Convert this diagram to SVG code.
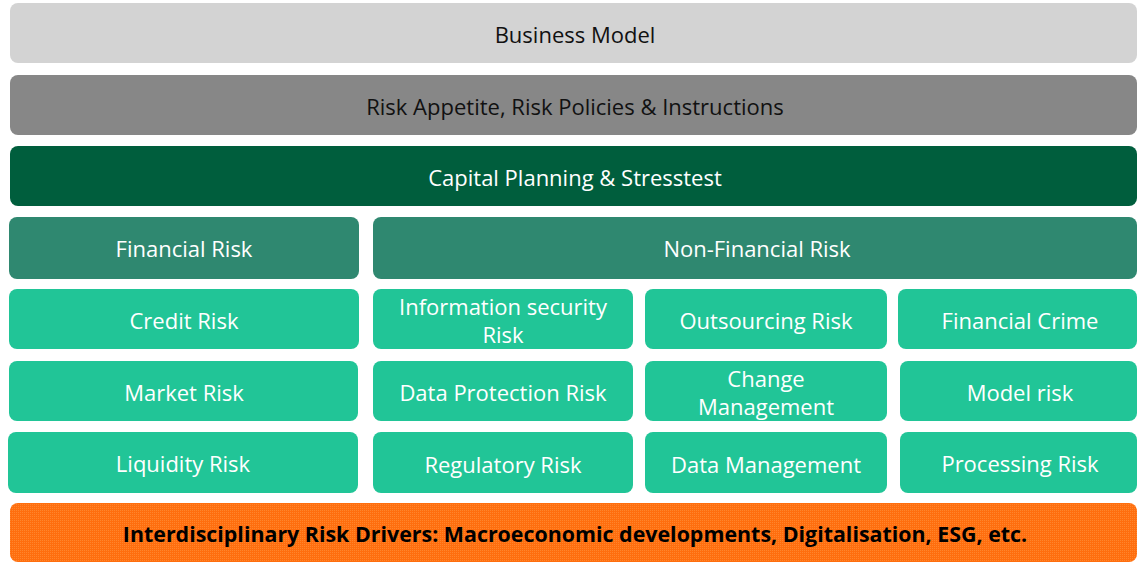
<svg xmlns="http://www.w3.org/2000/svg" width="1137" height="562" viewBox="0 0 1137 562">
  <defs>
    <!-- fine light speckle laid over the solid orange band -->
    <pattern id="dots" width="2" height="2" patternUnits="userSpaceOnUse">
      <rect width="1" height="1" fill="#ffa050"/>
    </pattern>
  </defs>
  <style>
    rect.box { rx: 8px; ry: 8px; }
    .gray-light { fill: #d3d3d3; }
    .gray-dark { fill: #878787; }
    .green-dark { fill: #005e3d; }
    .green-mid { fill: #2f8870; }
    .green-light { fill: #21c597; }
    .orange { fill: #ff6e0e; }
    .speckle { fill: url(#dots); opacity: 0.45; }
    text { font-family: "Open Sans", "Liberation Sans", sans-serif; font-size: 22px; text-anchor: middle; dominant-baseline: central; }
    .dark { fill: #111111; }
    .light { fill: #ffffff; }
    .bold { font-weight: bold; font-size: 21.4px; fill: #000000; }
  </style>

  <!-- top bands -->
  <g id="business-model">
    <rect class="box gray-light" x="10" y="3" width="1127" height="60"/>
    <text class="dark" x="575" y="33.5">Business Model</text>
  </g>
  <g id="risk-appetite">
    <rect class="box gray-dark" x="10" y="75" width="1127" height="60"/>
    <text class="dark" x="575" y="105.5">Risk Appetite, Risk Policies &amp; Instructions</text>
  </g>
  <g id="capital-planning">
    <rect class="box green-dark" x="10" y="146" width="1127" height="60"/>
    <text class="light" x="575" y="176.5">Capital Planning &amp; Stresstest</text>
  </g>

  <!-- category headers -->
  <g id="financial-risk">
    <rect class="box green-mid" x="9" y="217" width="350" height="62"/>
    <text class="light" x="184" y="247.5">Financial Risk</text>
  </g>
  <g id="non-financial-risk">
    <rect class="box green-mid" x="373" y="217" width="764" height="62"/>
    <text class="light" x="757" y="247.5">Non-Financial Risk</text>
  </g>

  <!-- financial risk types -->
  <g id="credit-risk">
    <rect class="box green-light" x="9" y="289" width="350" height="60"/>
    <text class="light" x="184" y="319.5">Credit Risk</text>
  </g>
  <g id="market-risk">
    <rect class="box green-light" x="9" y="361" width="349" height="60"/>
    <text class="light" x="184" y="391.5">Market Risk</text>
  </g>
  <g id="liquidity-risk">
    <rect class="box green-light" x="8" y="432" width="350" height="61"/>
    <text class="light" x="183" y="462.5">Liquidity Risk</text>
  </g>

  <!-- non-financial risk types -->
  <g id="information-security-risk">
    <rect class="box green-light" x="373" y="289" width="260" height="60"/>
    <text class="light" x="503" y="305.5">Information security</text>
    <text class="light" x="503" y="333.5">Risk</text>
  </g>
  <g id="outsourcing-risk">
    <rect class="box green-light" x="645" y="289" width="242" height="60"/>
    <text class="light" x="766" y="319.5">Outsourcing Risk</text>
  </g>
  <g id="financial-crime">
    <rect class="box green-light" x="898" y="289" width="239" height="60"/>
    <text class="light" x="1020" y="319.5">Financial Crime</text>
  </g>
  <g id="data-protection-risk">
    <rect class="box green-light" x="373" y="361" width="260" height="60"/>
    <text class="light" x="503" y="391.5">Data Protection Risk</text>
  </g>
  <g id="change-management">
    <rect class="box green-light" x="645" y="361" width="242" height="60"/>
    <text class="light" x="766" y="377.5">Change</text>
    <text class="light" x="766" y="405.5">Management</text>
  </g>
  <g id="model-risk">
    <rect class="box green-light" x="900" y="361" width="237" height="60"/>
    <text class="light" x="1020" y="391.5">Model risk</text>
  </g>
  <g id="regulatory-risk">
    <rect class="box green-light" x="373" y="432" width="260" height="61"/>
    <text class="light" x="503" y="463.5">Regulatory Risk</text>
  </g>
  <g id="data-management">
    <rect class="box green-light" x="645" y="432" width="242" height="61"/>
    <text class="light" x="766" y="463.5">Data Management</text>
  </g>
  <g id="processing-risk">
    <rect class="box green-light" x="900" y="432" width="237" height="61"/>
    <text class="light" x="1020" y="462.5">Processing Risk</text>
  </g>

  <!-- cross-cutting drivers band -->
  <g id="risk-drivers">
    <rect class="box orange" x="10" y="503" width="1127" height="59"/>
    <rect class="box speckle" x="10" y="503" width="1127" height="59"/>
    <text class="bold" x="575" y="533.5">Interdisciplinary Risk Drivers: Macroeconomic developments, Digitalisation, ESG, etc.</text>
  </g>

  <!-- no connectors in this layout -->
  <g id="connectors"/>
</svg>
